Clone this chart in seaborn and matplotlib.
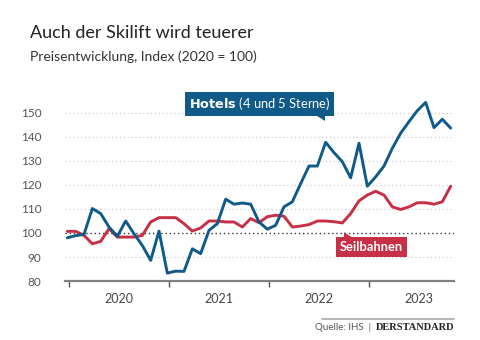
import matplotlib
matplotlib.use("Agg")
import matplotlib.pyplot as plt
from matplotlib.patches import Polygon
import seaborn as sns
import pandas as pd
import numpy as np

# Monthly index values, Jan 2020 - Nov 2023
hotels = [98.0, 98.9, 99.4, 110.2, 108.1, 102.5, 98.6, 105.0, 99.7, 94.8, 88.6, 100.8,
          83.3, 84.1, 84.0, 93.4, 91.4, 101.1, 103.9, 114.1, 112.0, 112.5, 112.0, 104.6,
          101.6, 103.2, 110.9, 113.0, 120.6, 127.9, 127.9, 137.8, 133.5, 129.7, 123.0, 137.4,
          119.5, 123.4, 127.9, 135.3, 141.6, 146.4, 151.0, 154.4, 143.9, 147.4, 143.7]
seilbahnen = [100.7, 100.7, 99.0, 95.5, 96.5, 101.8, 98.3, 98.3, 98.3, 99.0, 104.6, 106.4,
              106.4, 106.4, 103.9, 100.8, 102.1, 105.0, 105.0, 104.6, 104.6, 102.5, 106.0, 104.3,
              106.8, 107.4, 107.0, 102.5, 102.9, 103.5, 105.0, 105.0, 104.7, 104.2, 108.1, 113.4,
              115.8, 117.4, 115.8, 110.9, 109.8, 110.9, 112.6, 112.6, 112.0, 113.0, 119.5]
years = ["2020", "2021", "2022", "2023"]
yticks = [80, 90, 100, 110, 120, 130, 140, 150]

BLUE = "#0f5a89"
RED = "#c62f45"

month = np.arange(len(hotels))
df = pd.DataFrame({
    "month": np.concatenate([month, month]),
    "value": hotels + seilbahnen,
    "series": ["Hotels"] * len(hotels) + ["Seilbahnen"] * len(seilbahnen),
})

sns.set_theme(style="white")
plt.rcParams["font.family"] = ["Lato", "DejaVu Sans"]

fig = plt.figure(figsize=(4.8, 3.4), dpi=100)
ax = fig.add_axes([65 / 480, 1 - 281 / 340, (454 - 65) / 480, (281 - 101) / 340])

# gridlines
for v in yticks[1:]:
    if v == 100:
        continue
    ax.axhline(v, color="#c4c4c4", lw=0.8, ls=(0, (1, 2.5)), zorder=0)
ax.axhline(100, color="#333333", lw=1.0, ls=(0, (1, 2)), zorder=1)

sns.lineplot(data=df, x="month", y="value", hue="series",
             palette={"Hotels": BLUE, "Seilbahnen": RED},
             hue_order=["Seilbahnen", "Hotels"],
             lw=2.1, legend=False, ax=ax, zorder=3)

ax.set_xlim(-0.28, 46.4)
ax.set_ylim(80, 155)
ax.set_xlabel("")
ax.set_ylabel("")

for s in ["top", "right", "left"]:
    ax.spines[s].set_visible(False)
ax.spines["bottom"].set_color("#808080")
ax.spines["bottom"].set_linewidth(1.6)

ax.set_yticks(yticks)
ax.set_yticklabels([str(v) for v in yticks], color="#555555", fontsize=8.5)
ax.tick_params(axis="y", length=0, pad=17)

tick_pos = [0.2 + 12 * k for k in range(4)]
ax.set_xticks(tick_pos)
ax.set_xticklabels([])
ax.tick_params(axis="x", direction="out", length=4, width=1, color="#555555", bottom=True)
for k, yr in enumerate(years):
    ax.text(tick_pos[k] + 6, 72.5, yr, ha="center", va="center", fontsize=9,
            color="#444444")

# labels
ax.text(23.1, 153.8, r"$\bf{Hotels}$ (4 und 5 Sterne)", ha="center", va="center",
        color="white", fontsize=9.3, zorder=6, clip_on=False,
        bbox=dict(boxstyle="square,pad=0.28", fc=BLUE, ec="none"))
ax.add_patch(Polygon([[29.6, 149.4], [30.9, 149.4], [30.9, 146.7]], closed=True,
                     fc=BLUE, ec="none", zorder=6, clip_on=False))
ax.text(36.5, 94.2, "Seilbahnen", ha="center", va="center", color="white",
        fontsize=9.3, fontweight="bold", zorder=6,
        bbox=dict(boxstyle="square,pad=0.3", fc=RED, ec="none"))
ax.add_patch(Polygon([[33.2, 97.5], [34.5, 97.5], [33.2, 100.3]], closed=True,
                     fc=RED, ec="none", zorder=6))

# titles
fig.text(30 / 480, 1 - 33 / 340, "Auch der Skilift wird teuerer", fontsize=13,
         color="#222222", va="center", ha="left")
fig.text(30 / 480, 1 - 57 / 340, "Preisentwicklung, Index (2020 = 100)", fontsize=10,
         color="#333333", va="center", ha="left")

# footer
fig.add_artist(plt.Line2D([322 / 480, 454 / 480], [1 - 319 / 340, 1 - 319 / 340],
                          color="#aaaaaa", lw=1.2))
fig.text(454 / 480, 1 - 328 / 340, "DERSTANDARD", fontsize=7.5, color="#222222",
         ha="right", va="center", family=["Liberation Serif", "DejaVu Serif"],
         fontweight="bold")
fig.text(371 / 480, 1 - 328 / 340, "Quelle: IHS  |", fontsize=7, color="#555555",
         ha="right", va="center")

fig.savefig("out.png", dpi=100)
